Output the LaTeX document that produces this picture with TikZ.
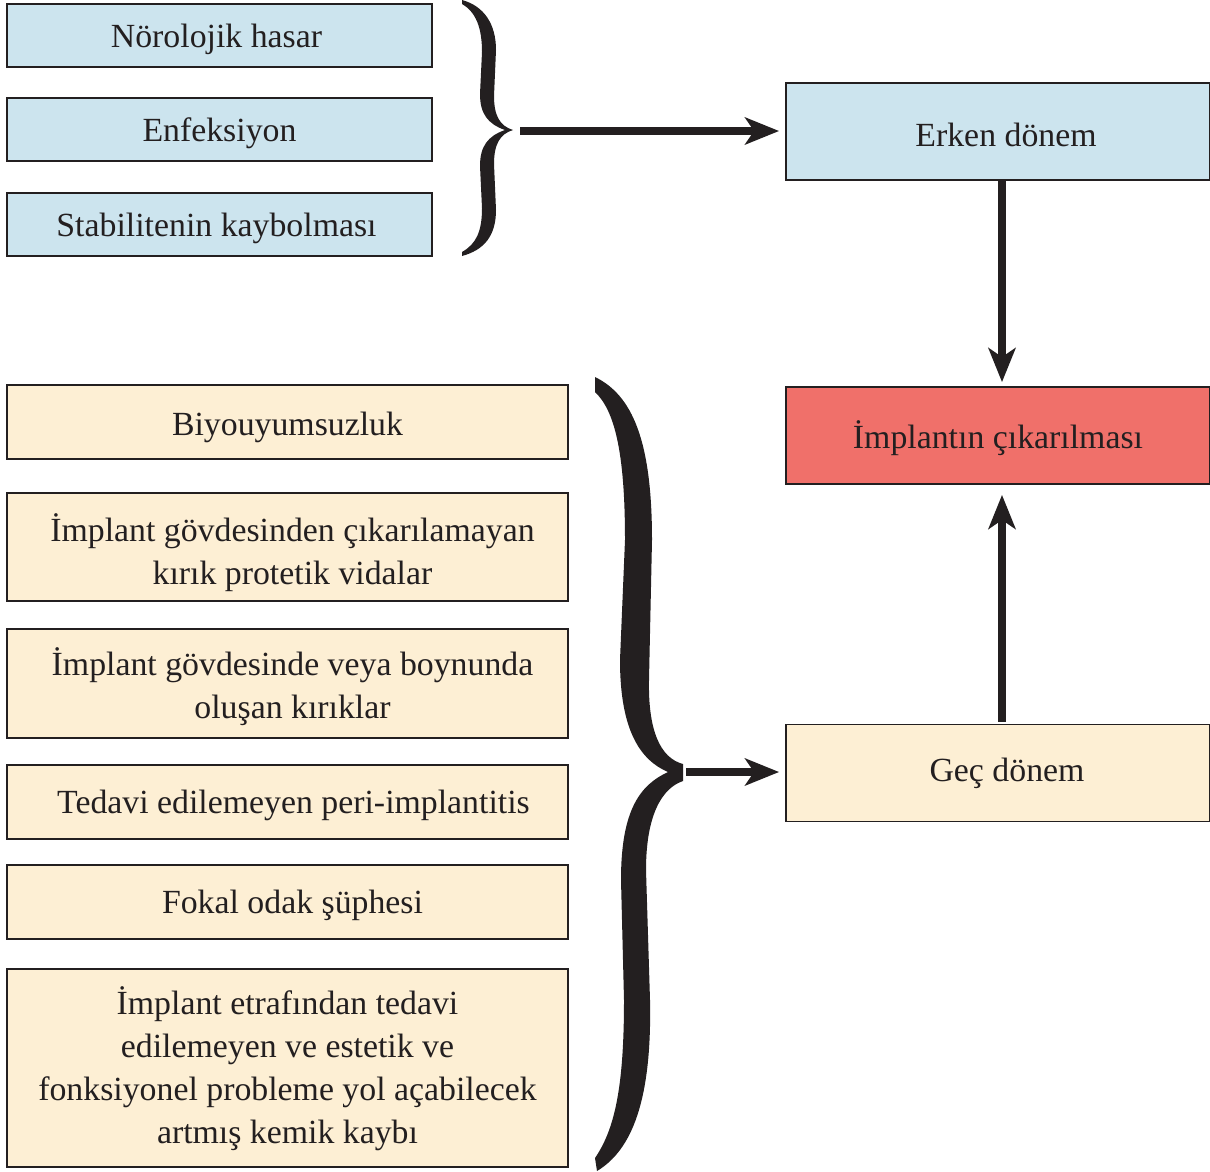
\documentclass[tikz,border=0pt]{standalone}
\usepackage{fontspec}
\setmainfont{Liberation Serif}
\usetikzlibrary{arrows.meta}
\definecolor{lblue}{RGB}{204,228,238}
\definecolor{lbeige}{RGB}{253,239,212}
\definecolor{lred}{RGB}{240,112,106}
\definecolor{ink}{RGB}{35,31,32}
\begin{document}
\begin{tikzpicture}[x=1pt,y=-1pt,
  box/.style={draw=ink,line width=1.8pt,inner sep=0pt},
  txt/.style={inner sep=0pt,align=center,font=\fontsize{33.8}{43}\selectfont,text=ink},
  bluebox/.style={box,fill=lblue,minimum width=425pt,minimum height=63pt},
  beigebox/.style={box,fill=lbeige,minimum width=561pt},
  rightbox/.style={box,minimum width=424pt,minimum height=97pt},
  conn/.style={draw=ink,line width=8pt,-{Stealth[length=34pt,width=27pt,inset=9pt]}},
  bracefill/.style={fill=ink,draw=none}]
\useasboundingbox (0,0) rectangle (1210,1171);
\fill[white] (0,0) rectangle (1210,1171);

% left blue boxes
\node[bluebox] (n1) at (219.5,35.5) {};
\node[txt] (n1t) at ([yshift=-4pt,xshift=-3pt]n1.center) {Nörolojik hasar};
\node[bluebox] (n2) at (219.5,129.5) {};
\node[txt] (n2t) at ([yshift=-4pt]n2.center) {Enfeksiyon};
\node[bluebox] (n3) at (219.5,224.5) {};
\node[txt] (n3t) at ([yshift=-4pt,xshift=-3pt]n3.center) {Stabilitenin kaybolması};

% left beige boxes
\node[beigebox,minimum height=74pt] (b1) at (287.5,422) {};
\node[txt] (b1t) at ([yshift=-5pt]b1.center) {Biyouyumsuzluk};
\node[beigebox,minimum height=108pt] (b2) at (287.5,547) {};
\node[txt] (b2t) at ([yshift=-6pt,xshift=5pt]b2.center) {İmplant gövdesinden çıkarılamayan\\kırık protetik vidalar};
\node[beigebox,minimum height=109pt] (b3) at (287.5,683.5) {};
\node[txt] (b3t) at ([yshift=-3pt,xshift=5pt]b3.center) {İmplant gövdesinde veya boynunda\\oluşan kırıklar};
\node[beigebox,minimum height=74pt] (b4) at (287.5,802) {};
\node[txt] (b4t) at ([yshift=-3pt,xshift=6pt]b4.center) {Tedavi edilemeyen peri-implantitis};
\node[beigebox,minimum height=74pt] (b5) at (287.5,902) {};
\node[txt] (b5t) at ([yshift=-3pt,xshift=5pt]b5.center) {Fokal odak şüphesi};
\node[beigebox,minimum height=198pt] (b6) at (287.5,1068) {};
\node[txt] (b6t) at ([yshift=-1pt]b6.center) {İmplant etrafından tedavi\\edilemeyen ve estetik ve\\fonksiyonel probleme yol açabilecek\\artmış kemik kaybı};

% right boxes
\node[rightbox,fill=lblue] (erken) at (998,131.5) {};
\node[txt] (erkent) at ([yshift=-3pt,xshift=8pt]erken.center) {Erken dönem};
\node[rightbox,fill=lred] (impl) at (998,435.5) {};
\node[txt] (implt) at ([yshift=-3pt]impl.center) {İmplantın çıkarılması};
\node[rightbox,fill=lbeige] (gec) at (998,773) {};
\node[txt] (gect) at ([xshift=9pt]gec.center) {Geç dönem};

% brace 1
\fill[bracefill] (462,0) .. controls (484,6) and (496,24) .. (496,50)
  -- (494,96) .. controls (494,116) and (500,126) .. (513,130)
  .. controls (500,134) and (494,144) .. (494,164)
  -- (496,210) .. controls (496,236) and (484,250) .. (462,256)
  -- (462,252) .. controls (476,244) and (482,232) .. (482,208)
  -- (480,166) .. controls (480,146) and (488,136) .. (505,130)
  .. controls (488,124) and (480,114) .. (480,94)
  -- (482,52) .. controls (482,28) and (476,12) .. (462,4) -- cycle;
\coordinate (t1) at (520,131);

% brace 2
\fill[bracefill] (595,377) .. controls (632,395) and (652,440) .. (652,540)
  -- (649,680) .. controls (648,730) and (660,758) .. (683,764)
  -- (683,781) .. controls (662,788) and (646,815) .. (646,870)
  -- (650,1000) .. controls (652,1100) and (632,1150) .. (597,1171)
  -- (595,1158) .. controls (614,1130) and (624,1090) .. (624,1000)
  -- (621,880) .. controls (621,810) and (640,785) .. (668,772)
  .. controls (640,760) and (620,730) .. (620,660)
  -- (625,540) .. controls (625,450) and (614,410) .. (595,392) -- cycle;
\coordinate (t2) at (686,772);

% connectors
\draw[conn,shorten >=6pt] (t1) -- (t1 -| erken.west);
\draw[conn,shorten >=6pt] (t2) -- (t2 -| gec.west);
\draw[conn,shorten >=4pt] ([xshift=4pt]erken.south) -- ([xshift=4pt]impl.north);
\draw[conn,shorten >=10pt,shorten <=2pt] ([xshift=4pt]gec.north) -- ([xshift=4pt]impl.south);
\end{tikzpicture}
\end{document}
